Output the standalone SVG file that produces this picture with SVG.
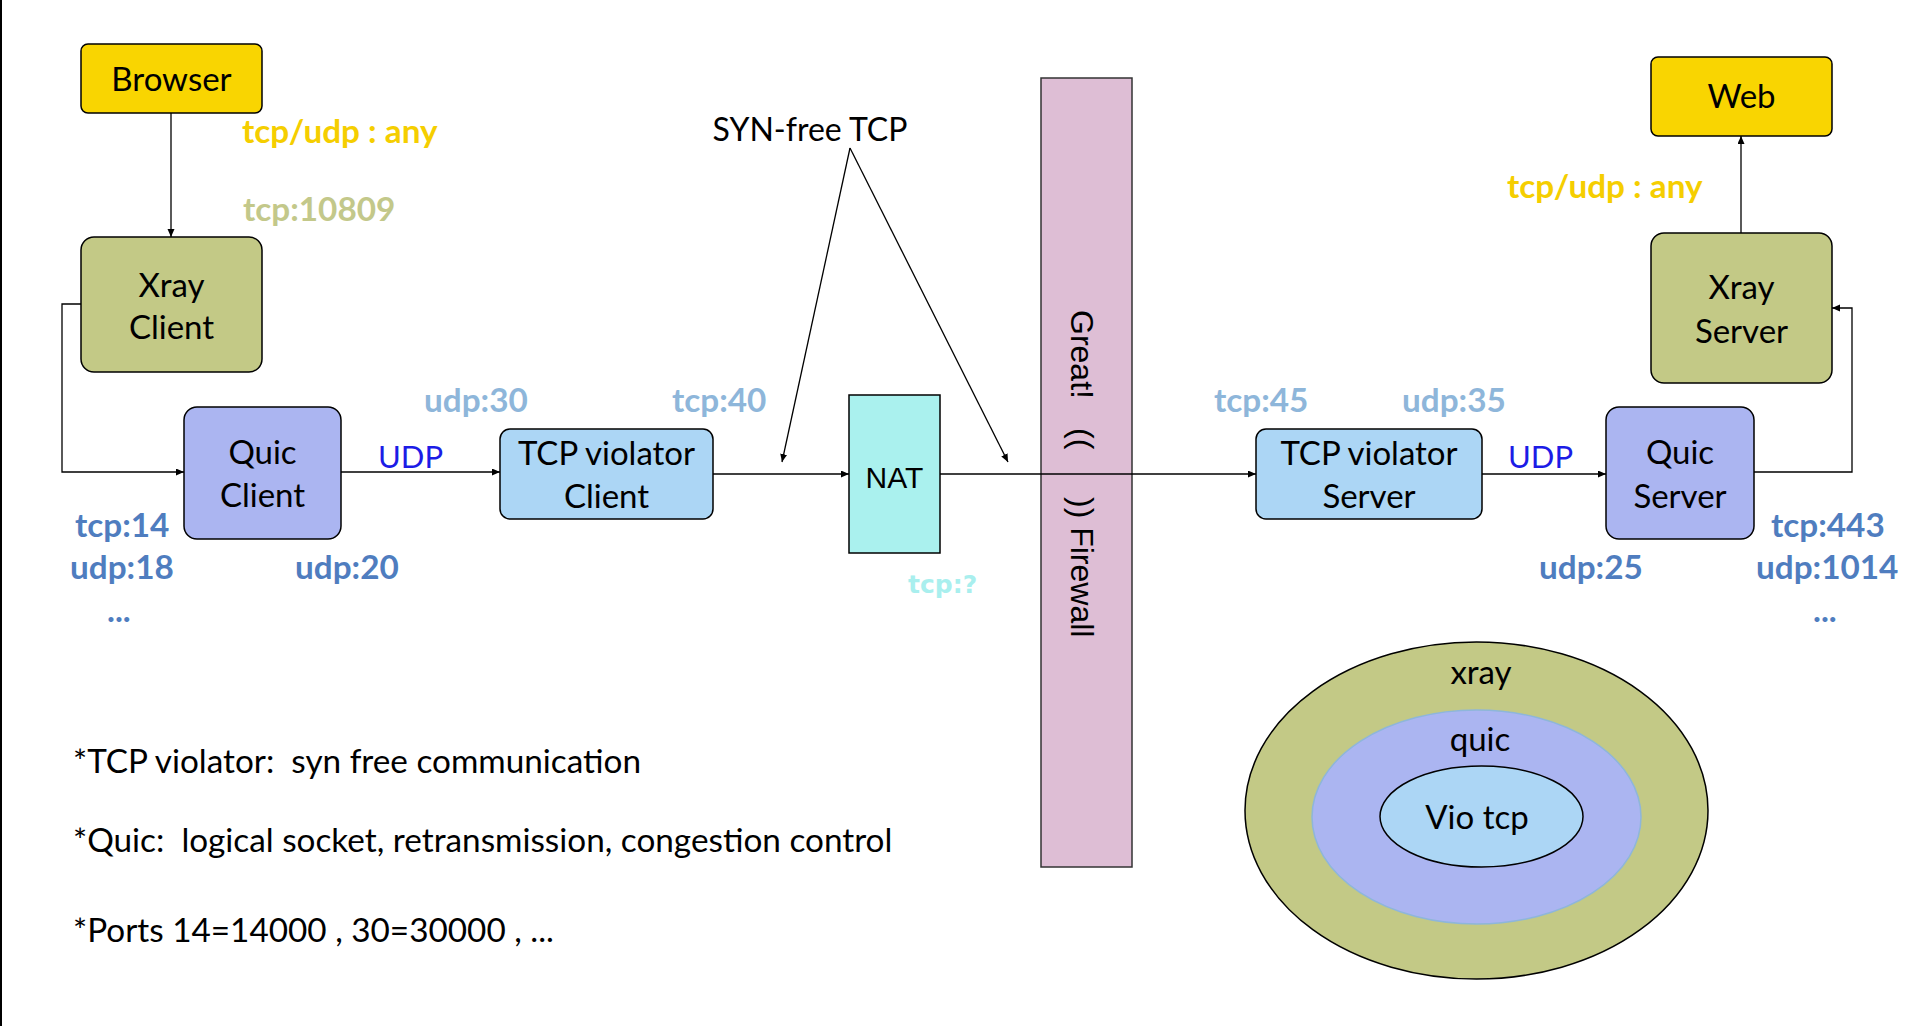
<svg xmlns="http://www.w3.org/2000/svg" width="1919" height="1026" viewBox="0 0 1919 1026">
<style>
.lbl{font-family:Lato,"Open Sans",sans-serif;font-size:33px;fill:#000;text-anchor:middle}
.note{font-family:Lato,"Open Sans",sans-serif;font-size:33.3px;fill:#000}
.port{font-family:Lato,"Open Sans",sans-serif;font-size:33.3px;font-weight:bold}
.dk{fill:#4F7DBF}
.lt{fill:#8EB6DA}
.gold{fill:#F5CE00}
.olv{fill:#C3C88A}
.udp{font-family:Lato,"Open Sans",sans-serif;font-size:31px;fill:#1C1CE6}
.box{stroke:#000;stroke-width:1.5}
.conn{fill:none;stroke:#000;stroke-width:1.3}
.fw{font-family:"Liberation Sans",Arial,sans-serif;font-size:32px;fill:#000}
</style>
<defs>
<marker id="ah" markerUnits="userSpaceOnUse" markerWidth="9" markerHeight="8" refX="8" refY="3.5" orient="auto">
<path d="M0,0 L8,3.5 L0,7 z" fill="#000"/>
</marker>
</defs>
<rect x="0" y="0" width="1919" height="1026" fill="#fff"/>
<rect x="0" y="0" width="2" height="1026" fill="#000"/>

<g id="browser">
<rect class="box" x="81" y="44" width="181" height="69" rx="7" fill="#F9D501"/>
<text class="lbl" x="171.5" y="91">Browser</text>
</g>
<g id="xray-client">
<rect class="box" x="81" y="237" width="181" height="135" rx="13" fill="#C3C986"/>
<text class="lbl" x="171.5" y="297">Xray</text>
<text class="lbl" x="171.5" y="339">Client</text>
</g>
<g id="quic-client">
<rect class="box" x="184" y="407" width="157" height="132" rx="13" fill="#ABB5F1"/>
<text class="lbl" x="262.5" y="464">Quic</text>
<text class="lbl" x="262.5" y="507">Client</text>
</g>
<g id="tcpv-client">
<rect class="box" x="500" y="429" width="213" height="90" rx="10" fill="#ACD6F5"/>
<text class="lbl" x="606.5" y="465">TCP violator</text>
<text class="lbl" x="606.5" y="508">Client</text>
</g>
<g id="nat">
<rect class="box" x="849" y="395" width="91" height="158" fill="#AAF1EE"/>
<text x="894.5" y="488" font-family="'Liberation Sans',Arial,sans-serif" font-size="30" text-anchor="middle">NAT</text>
</g>
<g id="firewall">
<rect x="1041" y="78" width="91" height="789" fill="#DEBED5" stroke="#333" stroke-width="1.5"/>
<text class="fw" transform="translate(1071,310) rotate(90)">Great!</text>
<text class="fw" transform="translate(1071,428) rotate(90)">((</text>
<text class="fw" transform="translate(1071,497) rotate(90)">)) Firewall</text>
</g>
<g id="tcpv-server">
<rect class="box" x="1256" y="429" width="226" height="90" rx="10" fill="#ACD6F5"/>
<text class="lbl" x="1369" y="465">TCP violator</text>
<text class="lbl" x="1369" y="508">Server</text>
</g>
<g id="quic-server">
<rect class="box" x="1606" y="407" width="148" height="132" rx="13" fill="#ABB5F1"/>
<text class="lbl" x="1680" y="464">Quic</text>
<text class="lbl" x="1680" y="508">Server</text>
</g>
<g id="xray-server">
<rect class="box" x="1651" y="233" width="181" height="150" rx="13" fill="#C3C986"/>
<text class="lbl" x="1741.5" y="299">Xray</text>
<text class="lbl" x="1741.5" y="343">Server</text>
</g>
<g id="web">
<rect class="box" x="1651" y="57" width="181" height="79" rx="7" fill="#F9D501"/>
<text class="lbl" x="1741.5" y="108">Web</text>
</g>

<g id="connectors">
<path class="conn" d="M171,113 V237" marker-end="url(#ah)"/>
<path class="conn" d="M81,304 H62 V472 H184" marker-end="url(#ah)"/>
<path class="conn" d="M341,472 H500" marker-end="url(#ah)"/>
<path class="conn" d="M713,474 H849" marker-end="url(#ah)"/>
<path class="conn" d="M940,474 H1256" marker-end="url(#ah)"/>
<path class="conn" d="M1482,474 H1606" marker-end="url(#ah)"/>
<path class="conn" d="M1754,472 H1852 V308 H1832" marker-end="url(#ah)"/>
<path class="conn" d="M1741,233 V136" marker-end="url(#ah)"/>
<path class="conn" d="M850,148 L782,462" marker-end="url(#ah)"/>
<path class="conn" d="M850,148 L1008,462" marker-end="url(#ah)"/>
</g>

<g id="labels">
<text x="810" y="141" font-family="Lato,'Open Sans',sans-serif" font-size="32" text-anchor="middle">SYN-free TCP</text>
<text class="port gold" x="242" y="143">tcp/udp : any</text>
<text class="port olv" x="243" y="221">tcp:10809</text>
<text class="port gold" x="1507" y="198">tcp/udp : any</text>
<text class="port lt" x="424" y="412">udp:30</text>
<text class="port lt" x="672" y="412">tcp:40</text>
<text class="port lt" x="1214" y="412">tcp:45</text>
<text class="port lt" x="1402" y="412">udp:35</text>
<text class="udp" x="378" y="468">UDP</text>
<text class="udp" x="1508" y="468">UDP</text>
<text class="port dk" x="75" y="537">tcp:14</text>
<text class="port dk" x="70" y="579">udp:18</text>
<text class="port dk" x="107" y="622">...</text>
<text class="port dk" x="295" y="579">udp:20</text>
<text class="port dk" x="1771" y="537">tcp:443</text>
<text class="port dk" x="1539" y="579">udp:25</text>
<text class="port dk" x="1756" y="579">udp:1014</text>
<text class="port dk" x="1813" y="622">...</text>
<text x="908" y="593" font-family="'DejaVu Sans',sans-serif" font-size="25" font-weight="bold" fill="#A9EFEE">tcp:?</text>
</g>

<g id="notes">
<text class="note" x="73" y="773" xml:space="preserve">*TCP violator:  syn free communication</text>
<text class="note" x="73" y="852" xml:space="preserve">*Quic:  logical socket, retransmission, congestion control</text>
<text class="note" x="73" y="942">*Ports 14=14000 , 30=30000 , ...</text>
</g>

<g id="layers">
<ellipse cx="1476.5" cy="810.5" rx="231.5" ry="168.5" fill="#C3C986" stroke="#000" stroke-width="1.5"/>
<ellipse cx="1476.5" cy="817" rx="164.5" ry="107" fill="#ABB5F1" stroke="#8EB6DA" stroke-width="1.5"/>
<ellipse cx="1481.5" cy="816.5" rx="101.5" ry="50.5" fill="#ACD6F5" stroke="#000" stroke-width="1.5"/>
<text class="lbl" x="1481" y="684">xray</text>
<text class="lbl" x="1480" y="751">quic</text>
<text class="lbl" x="1477" y="829">Vio tcp</text>
</g>
</svg>
